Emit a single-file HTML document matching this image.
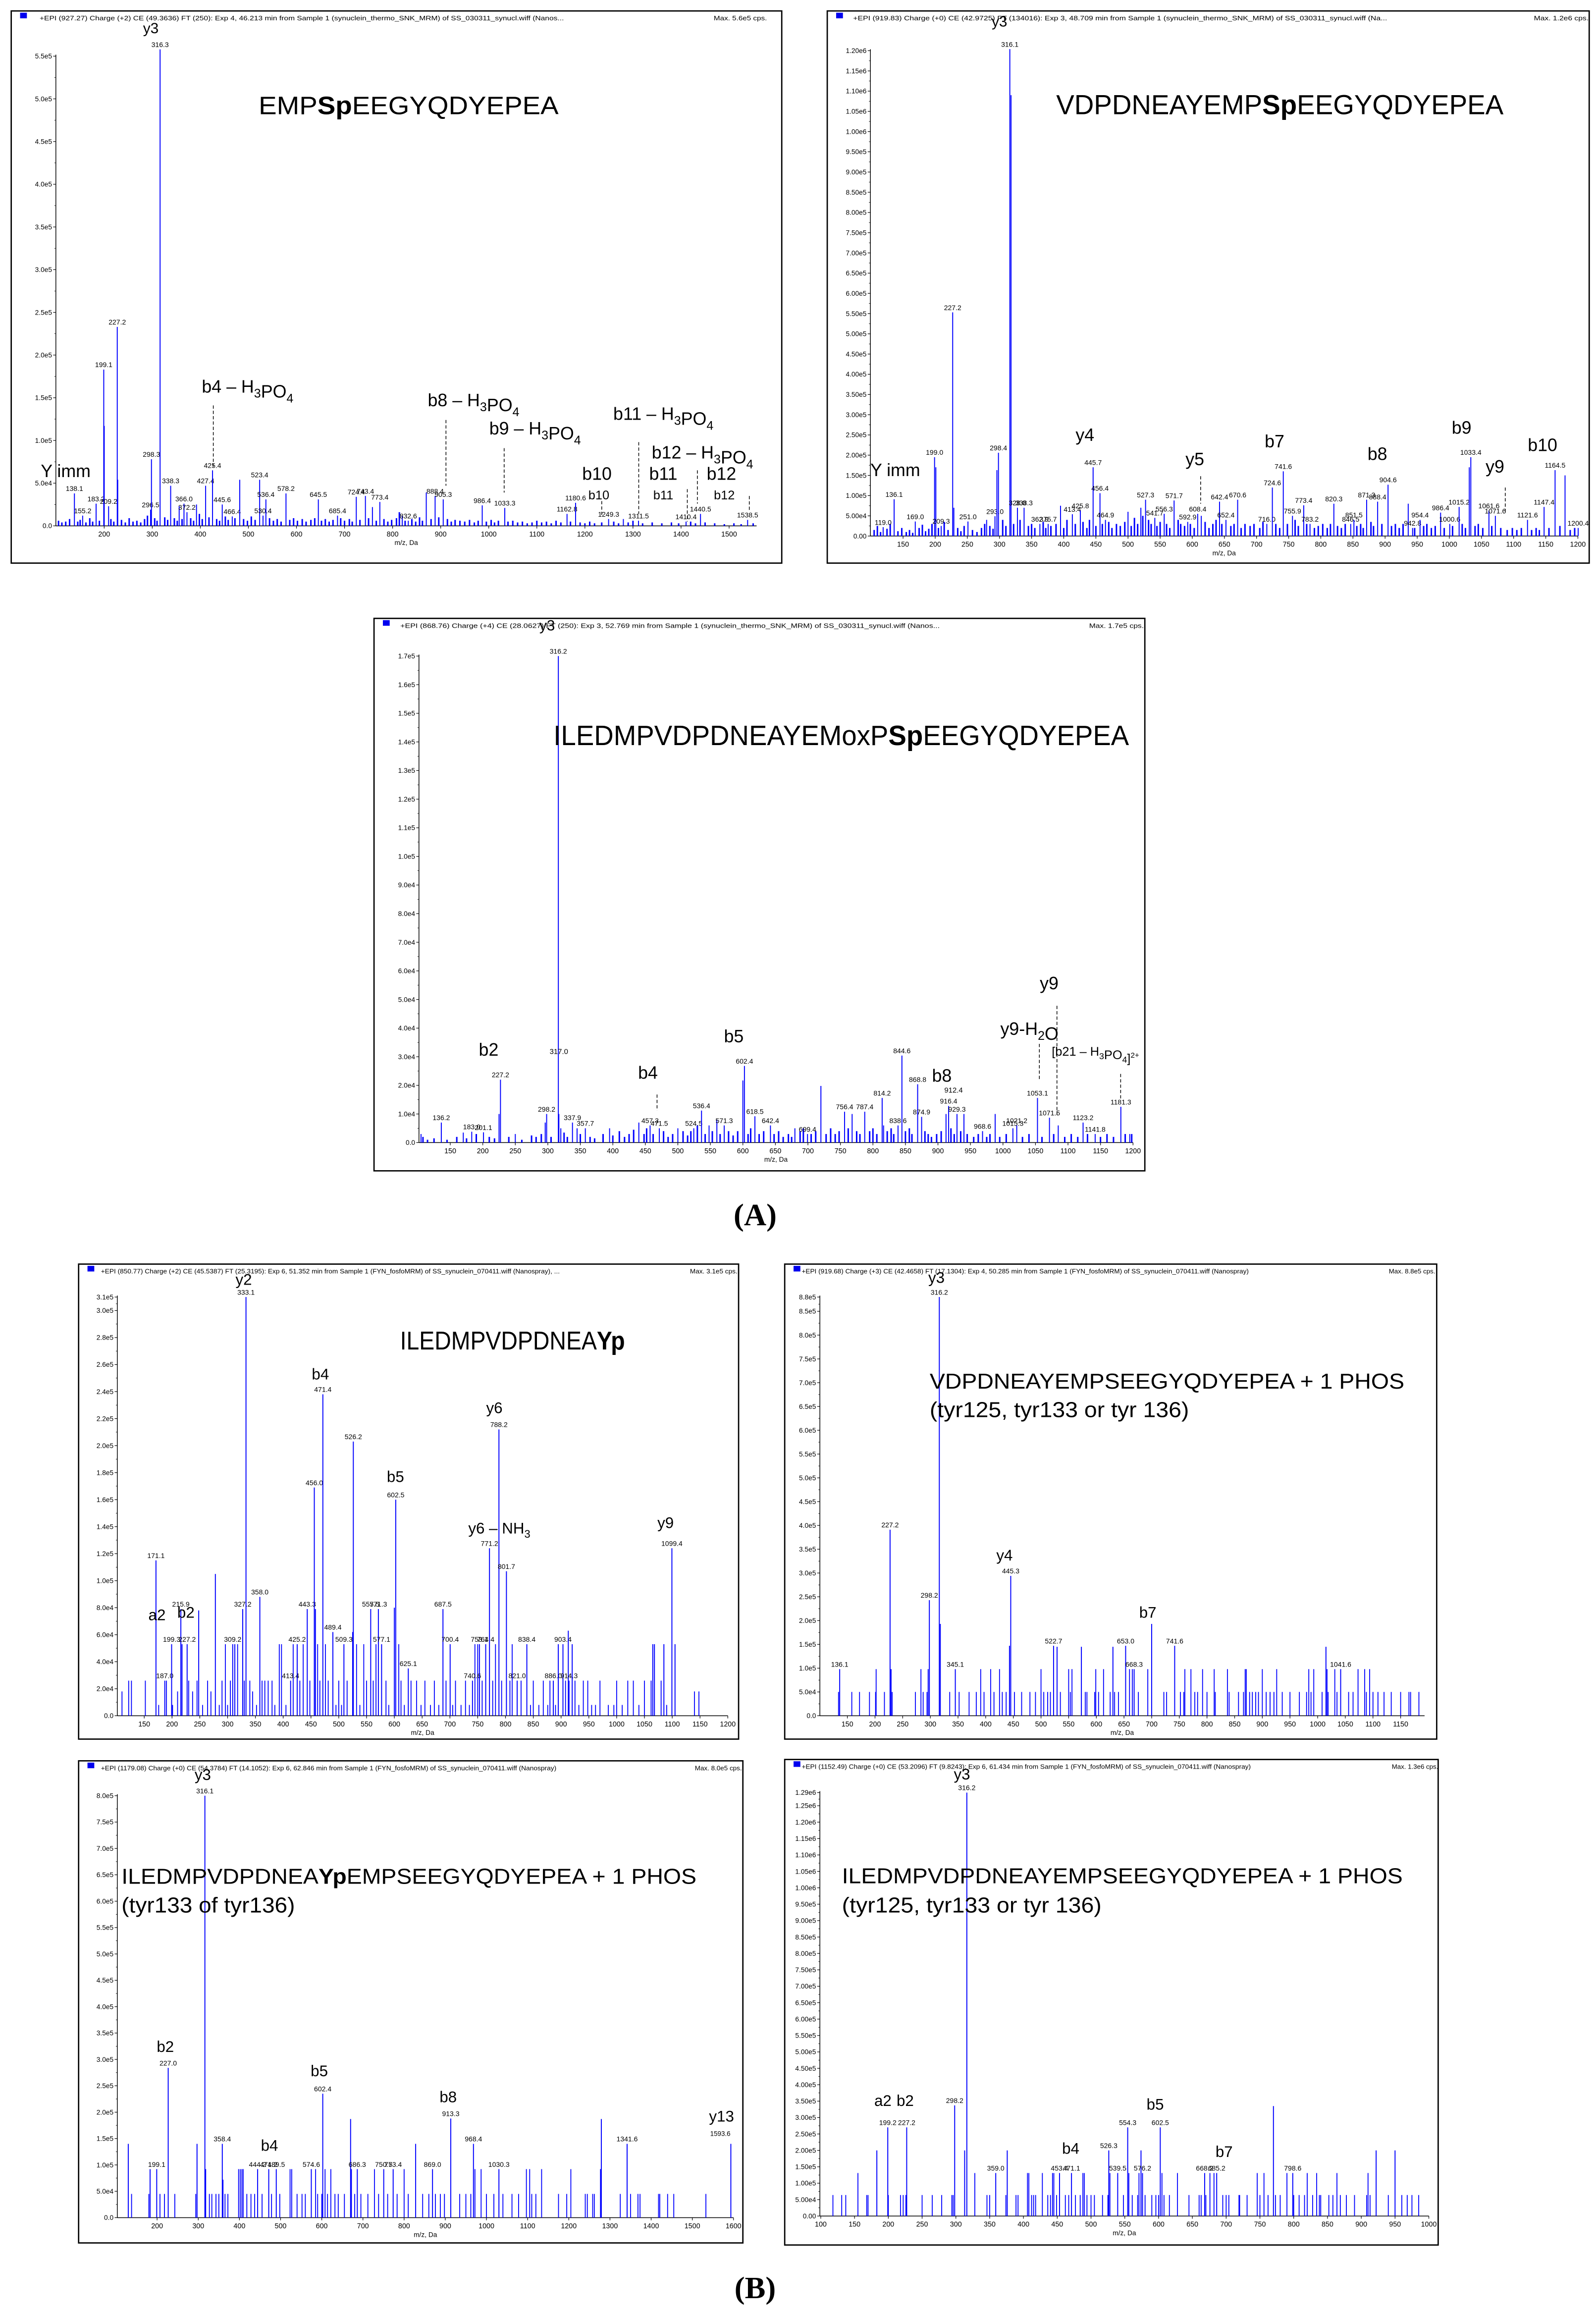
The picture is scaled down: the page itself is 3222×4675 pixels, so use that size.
<!DOCTYPE html>
<html><head><meta charset="utf-8"><title>MS/MS spectra</title>
<style>html,body{margin:0;padding:0;background:#fff}svg{display:block}</style></head>
<body>
<svg id="fig" xmlns="http://www.w3.org/2000/svg" width="3222" height="4675" viewBox="0 0 1080 1567.04" preserveAspectRatio="none">
<rect x="0" y="0" width="1080" height="1567.04" fill="#fff"/>
<text x="511" y="829" text-anchor="middle" font-family="Liberation Serif, serif" font-weight="bold" font-size="21">(A)</text>
<text x="511" y="1555" text-anchor="middle" font-family="Liberation Serif, serif" font-weight="bold" font-size="21">(B)</text>
</svg>
<script>
function range(a,b,s){const r=[];for(let v=a;v<=b+1e-9;v+=s)r.push(+v.toFixed(6));return r;}

/* ---------- Panel 1 data ---------- */
const P1_PEAKS=[[138.1,3.8e4,'138.1'],[155.2,1.2e4,'155.2'],[183.2,2.6e4,'183.2'],[199.1,1.83e5,'199.1'],[200.1,1.17e5,''],[209.2,2.3e4,'209.2'],[227.2,2.33e5,'227.2'],[228.2,5.4e4,''],[296.5,1.9e4,'296.5'],[298.3,7.8e4,'298.3'],[316.3,5.58e5,'316.3'],[338.3,4.7e4,'338.3'],[356,2.3e4,''],[366.0,2.6e4,'366.0'],[372.2,1.6e4,'372.2'],[392,2.5e4,''],[411,4.7e4,'427.4'],[425.4,6.5e4,'425.4'],[445.6,2.5e4,'445.6'],[466.4,1.1e4,'466.4'],[482,5.4e4,''],[523.4,5.4e4,'523.4'],[530.4,1.2e4,'530.4'],[536.4,3.1e4,'536.4'],[578.2,3.8e4,'578.2'],[645.5,3.1e4,'645.5'],[685.4,1.2e4,'685.4'],[724.4,3.4e4,'724.4'],[743.4,3.5e4,'743.4'],[758,2.2e4,''],[773.4,2.8e4,'773.4'],[820,1.2e4,''],[832.6,6e3,'832.6'],[870,3.9e4,''],[888.4,3.5e4,'888.4'],[905.3,3.1e4,'905.3'],[986.4,2.4e4,'986.4'],[1033.3,2.1e4,'1033.3'],[1162.8,1.4e4,'1162.8'],[1180.6,2.7e4,'1180.6'],[1249.3,8e3,'1249.3'],[1280,8e3,''],[1311.5,6e3,'1311.5'],[1410.4,5e3,'1410.4'],[1440.5,1.4e4,'1440.5'],[1538.5,7e3,'1538.5']];
const P1_NOISE=[[105,6e3],[112,4e3],[120,5e3],[128,8e3],[145,5e3],[150,7e3],[162,4e3],[170,9e3],[176,5e3],[190,6e3],[214,8e3],[220,5e3],[236,7e3],[244,4e3],[252,9e3],[260,5e3],[268,6e3],[276,4e3],[284,8e3],[290,1.2e4],[305,9e3],[310,6e3],[326,1e4],[332,7e3],[346,9e3],[352,6e3],[362,8e3],[380,9e3],[386,6e3],[398,1.4e4],[404,8e3],[418,1e4],[434,8e3],[440,6e3],[452,1.1e4],[458,7e3],[472,9e3],[490,8e3],[498,6e3],[506,1.1e4],[514,7e3],[544,9e3],[552,6e3],[560,8e3],[568,5e3],[586,7e3],[594,9e3],[602,6e3],[612,8e3],[620,5e3],[630,7e3],[638,9e3],[652,6e3],[660,8e3],[668,5e3],[676,7e3],[692,9e3],[700,6e3],[710,8e3],[716,5e3],[732,7e3],[750,9e3],[766,6e3],[782,8e3],[790,5e3],[798,7e3],[808,9e3],[814,1.6e4],[826,6e3],[840,8e3],[848,5e3],[856,1e4],[862,6e3],[880,8e3],[896,1e4],[914,8e3],[922,5e3],[930,7e3],[940,6e3],[950,5e3],[960,7e3],[970,4e3],[978,6e3],[995,5e3],[1005,7e3],[1012,4e3],[1020,6e3],[1040,5e3],[1050,6e3],[1060,4e3],[1070,5e3],[1080,3e3],[1090,4e3],[1100,6e3],[1110,4e3],[1120,5e3],[1130,3e3],[1140,6e3],[1150,4e3],[1170,5e3],[1190,4e3],[1200,3e3],[1210,5e3],[1220,3e3],[1235,4e3],[1260,5e3],[1270,3e3],[1290,4e3],[1300,6e3],[1320,3e3],[1340,4e3],[1360,3e3],[1380,4e3],[1395,3e3],[1420,5e3],[1430,3e3],[1450,4e3],[1470,3e3],[1490,2e3],[1510,3e3],[1525,2e3],[1550,3e3]];
const P1_ANN=[['y3',297,5.77e5,10,'middle'],['Y imm',68,5.7e4,12,'start'],['b4 – H_3PO_4',403,1.56e5,12,'start'],['b8 – H_3PO_4',873,1.4e5,12,'start'],['b9 – H_3PO_4',1001,1.07e5,12,'start'],['b11 – H_3PO_4',1259,1.24e5,12,'start'],['b12 – H_3PO_4',1339,7.9e4,12,'start'],['b10',1225,5.4e4,12,'middle'],['b11',1363,5.4e4,12,'middle'],['b12',1484,5.4e4,12,'middle'],['b10',1229,3.1e4,8.5,'middle'],['b11',1363,3.1e4,8.5,'middle'],['b12',1490,3.1e4,8.5,'middle']];
const P1_DASH=[[427,1.41e5,6.9e4],[911,1.24e5,4.7e4],[1032,9.1e4,3.9e4],[1312,9.8e4,1.4e4],[1413,4.3e4,5e3],[1235,2.9e4,1.2e4],[1434,6.5e4,2.6e4],[1542,3.5e4,1.8e4]];
const P1_YTICKS=range(0,5.5e5,5e4);
const P1_XTICKS=range(200,1500,100);

/* ---------- Panel 2 data ---------- */
const P2_PEAKS=[[119.0,2.2e4,'119.0'],[136.1,9.1e4,'136.1'],[169.0,3.6e4,'169.0'],[199.0,1.95e5,'199.0'],[201,1.7e5,''],[209.3,2.5e4,'209.3'],[227.2,5.53e5,'227.2'],[229,7e4,''],[251.0,3.6e4,'251.0'],[280,4e4,''],[293.0,4.9e4,'293.0'],[296,1.63e5,''],[298.4,2.06e5,'298.4'],[316.1,1.204e6,'316.1'],[318,1.09e6,''],[328.0,7e4,'328.0'],[338.3,7e4,'338.3'],[362.9,3e4,'362.9'],[375.7,3e4,'375.7'],[395,7.5e4,''],[413.4,5.4e4,'413.4'],[425.8,6.3e4,'425.8'],[445.7,1.7e5,'445.7'],[456.4,1.06e5,'456.4'],[464.9,4e4,'464.9'],[500,6e4,''],[520,7e4,''],[527.3,9e4,'527.3'],[541.7,4.5e4,'541.7'],[556.3,5.5e4,'556.3'],[571.7,8.8e4,'571.7'],[592.9,3.5e4,'592.9'],[608.4,5.5e4,'608.4'],[614,5e4,''],[642.4,8.5e4,'642.4'],[652.4,4e4,'652.4'],[670.6,9e4,'670.6'],[716.0,3e4,'716.0'],[724.6,1.2e5,'724.6'],[741.6,1.6e5,'741.6'],[755.9,5e4,'755.9'],[773.4,7.6e4,'773.4'],[783.2,3e4,'783.2'],[820.3,8e4,'820.3'],[846.5,3e4,'846.5'],[851.5,4e4,'851.5'],[871.3,9e4,'871.3'],[888.4,8.5e4,'888.4'],[904.6,1.27e5,'904.6'],[936,8e4,''],[942.8,2e4,'942.8'],[954.4,4e4,'954.4'],[986.4,5.8e4,'986.4'],[1000.6,3e4,'1000.6'],[1015.2,7.2e4,'1015.2'],[1031,1.7e5,''],[1033.4,1.95e5,'1033.4'],[1061.6,6.3e4,'1061.6'],[1071.6,5e4,'1071.6'],[1121.6,4e4,'1121.6'],[1147.4,7.2e4,'1147.4'],[1164.5,1.63e5,'1164.5'],[1180,1.5e5,''],[1200.4,2e4,'1200.4']];
const P2_NOISE=[[105,1.5e4],[110,2.5e4],[115,1e4],[125,1.8e4],[130,3e4],[142,1.2e4],[148,2e4],[155,1e4],[160,1.5e4],[165,8e3],[175,2e4],[180,2.8e4],[185,1.2e4],[190,1.8e4],[195,3e4],[205,2e4],[214,3.5e4],[220,1.5e4],[235,2e4],[240,1.2e4],[245,2.5e4],[258,1.5e4],[265,1e4],[272,2e4],[277,3e4],[285,2.5e4],[290,1.8e4],[305,4e4],[310,2.5e4],[322,3e4],[332,4e4],[345,2.5e4],[350,3e4],[355,2e4],[368,3.5e4],[372,2e4],[380,2.5e4],[388,3e4],[400,2e4],[405,4e4],[418,3e4],[430,3.5e4],[436,2e4],[440,4e4],[450,2.5e4],[460,3e4],[470,3.5e4],[475,2e4],[482,3e4],[488,2.5e4],[495,3.5e4],[505,2.5e4],[510,4.5e4],[515,3e4],[523,5e4],[532,4e4],[536,3e4],[545,2.5e4],[550,3.5e4],[560,3e4],[565,2e4],[578,4e4],[582,3e4],[588,2.5e4],[597,3e4],[603,2e4],[620,3.5e4],[626,2e4],[632,3e4],[637,4e4],[646,3e4],[660,2.5e4],[665,3e4],[676,2e4],[682,3e4],[690,2.5e4],[696,3e4],[705,2e4],[710,3.5e4],[730,3e4],[736,2e4],[748,3e4],[760,4e4],[765,2.5e4],[778,3e4],[790,2e4],[796,2.5e4],[803,3e4],[810,2e4],[815,3e4],[826,2.5e4],[832,2e4],[838,3e4],[856,2.5e4],[862,3e4],[866,2e4],[878,3.5e4],[882,2.5e4],[895,3e4],[910,2.5e4],[916,3e4],[922,2e4],[928,3e4],[946,2e4],[960,2.5e4],[965,3e4],[972,2e4],[978,2.5e4],[992,2e4],[1005,2.5e4],[1020,3e4],[1025,2e4],[1040,2.5e4],[1045,3e4],[1052,2e4],[1066,2.5e4],[1080,2e4],[1090,1.5e4],[1098,2e4],[1105,1.5e4],[1112,2e4],[1128,1.5e4],[1135,2e4],[1140,1.5e4],[1155,2e4],[1172,2.5e4],[1188,1.5e4],[1195,2e4]];
const P2_ANN=[['y3',300,1.26e6,10,'middle'],['Y imm',99,1.48e5,12,'start'],['y4',433,2.35e5,12,'middle'],['y5',604,1.75e5,12,'middle'],['b7',728,2.19e5,12,'middle'],['b8',888,1.88e5,12,'middle'],['b9',1019,2.53e5,12,'middle'],['y9',1071,1.57e5,12,'middle'],['b10',1145,2.1e5,12,'middle']];
const P2_DASH=[[613,1.48e5,8e4],[1087,1.2e5,6e4]];
const P2_YTICKS=range(0,1.2e6,5e4);
const P2_XTICKS=range(150,1200,50);

/* ---------- Panel 3 data ---------- */
const P3_PEAKS=[[105,3e3,''],[136.2,7e3,'136.2'],[170,3.5e3,''],[183.0,3.8e3,'183.0'],[201.1,3.6e3,'201.1'],[225,1.0e4,''],[227.2,2.2e4,'227.2'],[250,3e3,''],[296,7e3,''],[298.2,1.0e4,'298.2'],[316.2,1.7e5,'316.2'],[317.0,1.0e4,''],[320,5e3,''],[337.9,7e3,'337.9'],[345,5e3,''],[357.7,5e3,'357.7'],[395,5e3,''],[440,7e3,''],[457.3,6e3,'457.3'],[471.5,5e3,'471.5'],[500,5e3,''],[524.5,5e3,'524.5'],[536.4,1.12e4,'536.4'],[548,6e3,''],[560,8e3,''],[571.3,6e3,'571.3'],[600,2.17e4,''],[602.4,2.68e4,'602.4'],[618.5,9.2e3,'618.5'],[642.4,6e3,'642.4'],[680,5e3,''],[699.4,3e3,'699.4'],[720,1.98e4,''],[756.4,1.08e4,'756.4'],[768,1.0e4,''],[787.4,1.08e4,'787.4'],[814.2,1.56e4,'814.2'],[816.4,6e3,''],[838.6,6e3,'838.6'],[844.6,3.04e4,'844.6'],[868.8,2.04e4,'868.8'],[874.9,9e3,'874.9'],[912.4,1e4,''],[916.4,1.28e4,'916.4'],[929.3,1.0e4,'929.3'],[940,1e4,''],[968.6,4e3,'968.6'],[988,1e4,''],[1015.3,5e3,'1015.3'],[1021.2,6e3,'1021.2'],[1053.1,1.56e4,'1053.1'],[1071.5,8.7e3,'1071.5'],[1085,6e3,''],[1123.2,7e3,'1123.2'],[1141.8,3e3,'1141.8'],[1181.3,1.25e4,'1181.3'],[1195,3e3,'']];
const P3_NOISE=[[108,2e3],[115,1e3],[125,1.5e3],[145,1e3],[160,2e3],[175,1.5e3],[190,3e3],[210,2e3],[218,1.5e3],[240,2e3],[260,1e3],[275,2.5e3],[282,2e3],[290,3e3],[305,2e3],[325,3.5e3],[330,2e3],[350,3e3],[365,2e3],[372,1.5e3],[385,3e3],[400,2.5e3],[410,4e3],[418,2e3],[425,3e3],[432,4.5e3],[448,3e3],[452,5e3],[462,3e3],[478,4e3],[485,2e3],[492,3e3],[508,4e3],[515,2.5e3],[520,4e3],[530,6e3],[542,3e3],[553,4e3],[565,3e3],[578,4e3],[585,2.5e3],[592,4e3],[608,3e3],[612,5e3],[625,3e3],[632,4e3],[648,3e3],[655,4e3],[662,2e3],[670,3e3],[675,2e3],[688,4e3],[693,5e3],[705,3e3],[712,4e3],[728,3e3],[735,5e3],[742,3e3],[748,4e3],[762,5e3],[775,4e3],[780,3e3],[795,4e3],[800,5e3],[806,3e3],[822,4e3],[828,5e3],[832,3e3],[850,4e3],[856,5e3],[860,3e3],[880,4e3],[885,3e3],[890,2e3],[898,3e3],[905,4e3],[920,5e3],[925,3e3],[935,4e3],[945,3e3],[955,2e3],[962,3e3],[975,2e3],[980,3e3],[995,2e3],[1005,3e3],[1030,2e3],[1040,3e3],[1060,2e3],[1078,3e3],[1095,2e3],[1105,3e3],[1115,2e3],[1130,3e3],[1150,2e3],[1160,3e3],[1170,2e3],[1188,3e3],[1198,3e3]];
const P3_ANN=[['y3',299,1.79e5,10,'middle'],['b2',209,3.04e4,12,'middle'],['b4',454,2.23e4,12,'middle'],['b5',586,3.5e4,12,'middle'],['b8',906,2.13e4,12,'middle'],['y9',1071,5.36e4,12,'middle'],['y9-H_2O',996,3.76e4,12,'start'],['[b21 – H_3PO_4]^2+',1075,3.04e4,8.5,'start'],['317.0',317,3.1e4,5,'middle'],['912.4',924,1.75e4,5,'middle']];
const P3_DASH=[[468,1.68e4,1.12e4],[1083,4.78e4,9.6e3],[1056,3.45e4,2.17e4],[1181,2.4e4,1.5e4]];
const P3_YTICKS=range(0,1.7e5,1e4);
const P3_XTICKS=range(150,1200,50);

/* ---------- Panel 5 data ---------- */
const P5_PEAKS=[[171.1,1.15e5,'171.1'],[187.0,2.6e4,'187.0'],[199.3,5.3e4,'199.3'],[215.9,7.9e4,'215.9'],[218,5.3e4,''],[227.2,5.3e4,'227.2'],[248,7.8e4,''],[278,1.05e5,''],[309.2,5.3e4,'309.2'],[313,5.3e4,''],[327.2,7.9e4,'327.2'],[333.1,3.1e5,'333.1'],[358.0,8.8e4,'358.0'],[413.4,2.6e4,'413.4'],[425.2,5.3e4,'425.2'],[443.3,7.9e4,'443.3'],[456.0,1.69e5,'456.0'],[458,7.9e4,''],[471.4,2.38e5,'471.4'],[489.4,6.2e4,'489.4'],[509.3,5.3e4,'509.3'],[525,6.2e4,''],[526.2,2.03e5,'526.2'],[557.5,7.9e4,'557.5'],[571.3,7.9e4,'571.3'],[577.1,5.3e4,'577.1'],[600,8e4,''],[602.5,1.6e5,'602.5'],[625.1,3.5e4,'625.1'],[687.5,7.9e4,'687.5'],[700.4,5.3e4,'700.4'],[740.6,2.6e4,'740.6'],[753.1,5.3e4,'753.1'],[764.4,5.3e4,'764.4'],[771.2,1.24e5,'771.2'],[788.2,2.12e5,'788.2'],[801.7,1.07e5,'801.7'],[821.0,2.6e4,'821.0'],[838.4,5.3e4,'838.4'],[886.0,2.6e4,'886.0'],[895,5.3e4,''],[903.4,5.3e4,'903.4'],[913,6.3e4,''],[914.3,2.6e4,'914.3'],[920,5.3e4,''],[1065,5.3e4,''],[1068,5.3e4,''],[1085,5.3e4,''],[1099.4,1.24e5,'1099.4'],[1105,5.3e4,'']];
const P5_NOISE=[[110,1.8e4],[122,2.6e4],[127,2.6e4],[152,2.6e4],[176,8e3],[190,2.6e4],[201,8e3],[210,1.8e4],[230,2.6e4],[237,1.8e4],[245,2.6e4],[255,8e3],[264,2.6e4],[270,1.8e4],[285,8e3],[290,2.6e4],[296,5.3e4],[300,8e3],[305,2.6e4],[318,5.3e4],[330,2.6e4],[340,2.6e4],[345,1.8e4],[352,8e3],[362,2.6e4],[367,2.6e4],[373,2.6e4],[380,2.6e4],[385,8e3],[393,5.3e4],[397,5.3e4],[405,8e3],[418,5.3e4],[430,2.6e4],[436,5.3e4],[448,2.6e4],[462,5.3e4],[466,2.6e4],[476,5.3e4],[481,2.6e4],[495,8e3],[500,2.6e4],[505,8e3],[515,2.6e4],[532,5.3e4],[538,8e3],[545,5.3e4],[550,2.6e4],[562,2.6e4],[567,5.3e4],[585,2.6e4],[590,8e3],[608,5.3e4],[612,2.6e4],[618,8e3],[630,2.6e4],[640,2.6e4],[648,8e3],[655,2.6e4],[665,8e3],[672,2.6e4],[680,8e3],[693,2.6e4],[705,8e3],[710,2.6e4],[720,8e3],[728,2.6e4],[735,8e3],[745,5.3e4],[750,5.3e4],[758,2.6e4],[777,2.6e4],[782,5.3e4],[793,2.6e4],[808,2.6e4],[812,5.3e4],[828,2.6e4],[845,8e3],[850,2.6e4],[860,8e3],[868,2.6e4],[876,8e3],[880,2.6e4],[890,8e3],[908,2.6e4],[925,2.6e4],[932,8e3],[940,2.6e4],[948,2.6e4],[955,8e3],[962,8e3],[970,2.6e4],[985,8e3],[995,8e3],[1000,2.6e4],[1010,8e3],[1020,2.6e4],[1030,2.6e4],[1040,8e3],[1050,2.6e4],[1062,2.6e4],[1080,2.6e4],[1090,8e3],[1140,1.8e4],[1148,1.8e4]];
const P5_ANN=[['y2',329,3.19e5,10.5,'middle'],['b4',467,2.49e5,10.5,'middle'],['y6',780,2.24e5,10.5,'middle'],['b5',602,1.73e5,10.5,'middle'],['y6 – NH_3',733,1.35e5,10.5,'start'],['y9',1088,1.39e5,10.5,'middle'],['a2',173,7.07e4,10.5,'middle'],['b2',225,7.25e4,10.5,'middle']];
const P5_DASH=[];
const P5_YTICKS=range(0,3.0e5,2e4).concat([3.1e5]);
const P5_XTICKS=range(150,1200,50);

/* ---------- Panel 6 data ---------- */
const P6_PEAKS=[[136.1,9.8e4,'136.1'],[227.2,3.91e5,'227.2'],[229,9.8e4,''],[298.2,2.43e5,'298.2'],[316.2,8.8e5,'316.2'],[318,1.93e5,''],[345.1,9.8e4,'345.1'],[443,1.47e5,''],[445.3,2.94e5,'445.3'],[522.7,1.47e5,'522.7'],[529,1.45e5,''],[573,1.45e5,''],[630,1.45e5,''],[653.0,1.47e5,'653.0'],[668.3,9.8e4,'668.3'],[700,1.93e5,''],[741.6,1.47e5,'741.6'],[1015,1.45e5,''],[1041.6,9.8e4,'1041.6']];
const P6_NOISE=[[202,9.8e4],[283,9.8e4],[296,9.8e4],[391,9.8e4],[409,9.8e4],[425,9.8e4],[500,9.8e4],[550,9.8e4],[556,9.8e4],[599,9.8e4],[613,9.8e4],[660,9.8e4],[665,9.8e4],[693,9.8e4],[760,9.8e4],[771,9.8e4],[792,9.8e4],[813,9.8e4],[837,9.8e4],[869,9.8e4],[871,9.8e4],[900,9.8e4],[926,9.8e4],[984,9.8e4],[993,9.8e4],[1017,9.8e4],[1031,9.8e4],[1073,9.8e4],[1085,9.8e4],[1094,9.8e4],[134,5e4],[158,5e4],[172,5e4],[190,5e4],[201,5e4],[217,5e4],[231,5e4],[273,5e4],[287,5e4],[294,5e4],[335,5e4],[352,5e4],[370,5e4],[383,5e4],[397,5e4],[415,5e4],[430,5e4],[437,5e4],[452,5e4],[465,5e4],[480,5e4],[490,5e4],[505,5e4],[512,5e4],[517,5e4],[535,5e4],[553,5e4],[580,5e4],[583,5e4],[597,5e4],[604,5e4],[625,5e4],[633,5e4],[640,5e4],[676,5e4],[722,5e4],[727,5e4],[752,5e4],[758,5e4],[778,5e4],[783,5e4],[800,5e4],[815,5e4],[840,5e4],[857,5e4],[866,5e4],[877,5e4],[882,5e4],[888,5e4],[893,5e4],[907,5e4],[914,5e4],[921,5e4],[936,5e4],[950,5e4],[967,5e4],[980,5e4],[988,5e4],[1008,5e4],[1019,5e4],[1035,5e4],[1056,5e4],[1064,5e4],[1088,5e4],[1100,5e4],[1109,5e4],[1120,5e4],[1133,5e4],[1150,5e4],[1165,5e4],[1168,5e4],[1183,5e4]];
const P6_ANN=[['y3',311,9.1e5,10.5,'middle'],['y4',434,3.26e5,10.5,'middle'],['b7',693,2.06e5,10.5,'middle']];
const P6_DASH=[];
const P6_YTICKS=range(0,8.5e5,5e4).concat([8.8e5]);
const P6_XTICKS=range(150,1150,50);

/* ---------- Panel 7 data ---------- */
const P7_PEAKS=[[130,1.4e5,''],[183,9.2e4,''],[199.1,9.2e4,'199.1'],[227.0,2.84e5,'227.0'],[297,1.4e5,''],[316.1,8e5,'316.1'],[318,9.2e4,''],[358.4,1.4e5,'358.4'],[360,7.2e4,''],[444.2,9.2e4,'444.2'],[471.2,9.2e4,'471.2'],[489.5,9.2e4,'489.5'],[574.6,9.2e4,'574.6'],[602.4,2.35e5,'602.4'],[670,1.87e5,''],[686.3,9.2e4,'686.3'],[750.5,9.2e4,'750.5'],[773.4,9.2e4,'773.4'],[828,1.4e5,''],[869.0,9.2e4,'869.0'],[913.3,1.88e5,'913.3'],[968.4,1.4e5,'968.4'],[1030.3,9.2e4,'1030.3'],[1279,1.87e5,''],[1341.6,1.4e5,'1341.6'],[1593.6,1.4e5,'']];
const P7_NOISE=[[398,9.2e4],[402,9.2e4],[406,9.2e4],[409,9.2e4],[523,9.2e4],[527,9.2e4],[585,9.2e4],[608,9.2e4],[622,9.2e4],[672,9.2e4],[728,9.2e4],[800,9.2e4],[972,9.2e4],[987,9.2e4],[1097,9.2e4],[1105,9.2e4],[1134,9.2e4],[1205,9.2e4],[1277,9.2e4],[138,4.5e4],[180,4.5e4],[207,4.5e4],[218,4.5e4],[243,4.5e4],[294,4.5e4],[327,4.5e4],[333,4.5e4],[343,4.5e4],[350,4.5e4],[365,4.5e4],[372,4.5e4],[418,4.5e4],[428,4.5e4],[437,4.5e4],[455,4.5e4],[478,4.5e4],[498,4.5e4],[540,4.5e4],[552,4.5e4],[560,4.5e4],[590,4.5e4],[600,4.5e4],[614,4.5e4],[632,4.5e4],[640,4.5e4],[655,4.5e4],[680,4.5e4],[695,4.5e4],[712,4.5e4],[738,4.5e4],[760,4.5e4],[783,4.5e4],[810,4.5e4],[845,4.5e4],[860,4.5e4],[876,4.5e4],[888,4.5e4],[898,4.5e4],[935,4.5e4],[950,4.5e4],[962,4.5e4],[1000,4.5e4],[1018,4.5e4],[1040,4.5e4],[1062,4.5e4],[1078,4.5e4],[1110,4.5e4],[1120,4.5e4],[1175,4.5e4],[1195,4.5e4],[1240,4.5e4],[1245,4.5e4],[1258,4.5e4],[1262,4.5e4],[1325,4.5e4],[1350,4.5e4],[1368,4.5e4],[1373,4.5e4],[1418,4.5e4],[1421,4.5e4],[1440,4.5e4],[1455,4.5e4],[1533,4.5e4]];
const P7_ANN=[['y3',311,8.3e5,10.5,'middle'],['b2',220,3.14e5,10.5,'middle'],['b5',594,2.68e5,10.5,'middle'],['b8',907,2.19e5,10.5,'middle'],['b4',473,1.27e5,10.5,'middle'],['y13',1571,1.82e5,10.5,'middle'],['1593.6',1568,1.55e5,4.5,'middle']];
const P7_DASH=[];
const P7_YTICKS=range(0,8e5,5e4);
const P7_XTICKS=range(200,1600,100);

/* ---------- Panel 8 data ---------- */
const P8_PEAKS=[[183,2e5,''],[199.2,2.7e5,'199.2'],[227.2,2.7e5,'227.2'],[298.2,3.37e5,'298.2'],[313,2e5,''],[316.2,1.29e6,'316.2'],[359.0,1.31e5,'359.0'],[376,2e5,''],[453.4,1.31e5,'453.4'],[471.1,1.31e5,'471.1'],[526.3,2e5,'526.3'],[539.5,1.31e5,'539.5'],[554.3,2.7e5,'554.3'],[574,2e5,''],[576.2,1.31e5,'576.2'],[602.5,2.7e5,'602.5'],[668.2,1.31e5,'668.2'],[686,1.31e5,'685.2'],[770,3.35e5,''],[798.6,1.31e5,'798.6'],[922,2e5,''],[950,2e5,'']];
const P8_NOISE=[[155,1.31e5],[328,1.31e5],[406,1.31e5],[408,1.31e5],[428,1.31e5],[443,1.31e5],[445,1.31e5],[488,1.31e5],[490,1.31e5],[528,1.31e5],[556,1.31e5],[571,1.31e5],[605,1.31e5],[628,1.31e5],[676,1.31e5],[682,1.31e5],[746,1.31e5],[756,1.31e5],[790,1.31e5],[820,1.31e5],[834,1.31e5],[864,1.31e5],[910,1.31e5],[118,6.4e4],[131,6.4e4],[137,6.4e4],[168,6.4e4],[170,6.4e4],[200,6.4e4],[218,6.4e4],[222,6.4e4],[226,6.4e4],[250,6.4e4],[265,6.4e4],[279,6.4e4],[294,6.4e4],[296,6.4e4],[346,6.4e4],[350,6.4e4],[374,6.4e4],[389,6.4e4],[392,6.4e4],[412,6.4e4],[415,6.4e4],[418,6.4e4],[436,6.4e4],[440,6.4e4],[449,6.4e4],[462,6.4e4],[467,6.4e4],[477,6.4e4],[484,6.4e4],[494,6.4e4],[500,6.4e4],[505,6.4e4],[517,6.4e4],[525,6.4e4],[548,6.4e4],[561,6.4e4],[569,6.4e4],[580,6.4e4],[590,6.4e4],[596,6.4e4],[600,6.4e4],[608,6.4e4],[616,6.4e4],[645,6.4e4],[660,6.4e4],[663,6.4e4],[670,6.4e4],[695,6.4e4],[700,6.4e4],[704,6.4e4],[719,6.4e4],[720,6.4e4],[731,6.4e4],[750,6.4e4],[762,6.4e4],[773,6.4e4],[780,6.4e4],[800,6.4e4],[808,6.4e4],[816,6.4e4],[828,6.4e4],[838,6.4e4],[840,6.4e4],[852,6.4e4],[858,6.4e4],[869,6.4e4],[878,6.4e4],[890,6.4e4],[908,6.4e4],[913,6.4e4],[940,6.4e4],[960,6.4e4],[968,6.4e4],[975,6.4e4],[985,6.4e4]];
const P8_ANN=[['y3',309,1.33e6,10.5,'middle'],['a2',192,3.35e5,10.5,'middle'],['b2',225,3.35e5,10.5,'middle'],['b5',595,3.24e5,10.5,'middle'],['b4',470,1.9e5,10.5,'middle'],['b7',697,1.8e5,10.5,'middle']];
const P8_DASH=[];
const P8_YTICKS=range(0,1.25e6,5e4).concat([1.29e6]);
const P8_XTICKS=range(100,1000,50);

/* ---------- panel layout (geometry only) ---------- */
const PANELS=[
 {name:'spectrum-empspeegyqdyepea',frame:[7.6,7.4,521.4,373.6],axL:37.8,axB:355.8,axR:512,yTopPx:38.0,yTopVal:5.5e5,xRefPx:70.5,xRefMz:200,k:0.3253,dec:1,nw:1.0,
  title:'+EPI (927.27) Charge (+2) CE (49.3636) FT (250): Exp 4, 46.213 min from Sample 1 (synuclein_thermo_SNK_MRM) of SS_030311_synucl.wiff (Nanos...',tx:[26.8,381.6],max:'Max. 5.6e5 cps.',mx:[483,519],
  seq:[['EMP*Sp*EEGYQDYEPEA',175,378,77.2,17]],peaks:P1_PEAKS,noise:P1_NOISE,ann:P1_ANN,dash:P1_DASH,yt:P1_YTICKS,xt:P1_XTICKS},
 {name:'spectrum-vdpdneayempspeegyqdyepea',frame:[559.8,7.4,515.6,373.6],axL:589.0,axB:362.7,axR:1067.7,yTopPx:34.3,yTopVal:1.2e6,xRefPx:611.1,xRefMz:150,k:0.4349,dec:2,nw:1.0,
  title:'+EPI (919.83) Charge (+0) CE (42.9725) FT (134016): Exp 3, 48.709 min from Sample 1 (synuclein_thermo_SNK_MRM) of SS_030311_synucl.wiff (Na...',tx:[577.3,938.7],max:'Max. 1.2e6 cps.',mx:[1038,1075],
  seq:[['VDPDNEAYEMP*Sp*EEGYQDYEPEA',714.7,1017.4,77.2,18.5]],peaks:P2_PEAKS,noise:P2_NOISE,ann:P2_ANN,dash:P2_DASH,yt:P2_YTICKS,xt:P2_XTICKS},
 {name:'spectrum-iledmpvdpdneayemoxpspeegyqdyepea',frame:[253.1,418.4,521.6,373.8],axL:283.5,axB:773.1,axR:766.7,yTopPx:443.9,yTopVal:1.7e5,xRefPx:304.7,xRefMz:150,k:0.44,dec:1,nw:1.0,
  title:'+EPI (868.76) Charge (+4) CE (28.0627) FT (250): Exp 3, 52.769 min from Sample 1 (synuclein_thermo_SNK_MRM) of SS_030311_synucl.wiff (Nanos...',tx:[270.9,635.9],max:'Max. 1.7e5 cps.',mx:[737,774],
  seq:[['ILEDMPVDPDNEAYEMoxP*Sp*EEGYQDYEPEA',374.5,764,504.2,19]],peaks:P3_PEAKS,noise:P3_NOISE,ann:P3_ANN,dash:P3_DASH,yt:P3_YTICKS,xt:P3_XTICKS},
 {name:'spectrum-iledmpvdpdneayp',frame:[53.2,855.3,446.6,321.4],axL:79.4,axB:1160.9,axR:492.5,yTopPx:877.6,yTopVal:3.1e5,xRefPx:97.6,xRefMz:150,k:0.3761,dec:1,nw:0.6,
  title:'+EPI (850.77) Charge (+2) CE (45.5387) FT (25.3195): Exp 6, 51.352 min from Sample 1 (FYN_fosfoMRM) of SS_synuclein_070411.wiff (Nanospray), ...',tx:[68.3,378.8],max:'Max. 3.1e5 cps.',mx:[466.9,499],
  seq:[['ILEDMPVDPDNEA*Yp*',270.7,422.9,913.0,17.5]],peaks:P5_PEAKS,noise:P5_NOISE,ann:P5_ANN,dash:P5_DASH,yt:P5_YTICKS,xt:P5_XTICKS},
 {name:'spectrum-vdpdneay-1phos',frame:[531,855.3,441.2,321.4],axL:554.8,axB:1160.9,axR:964,yTopPx:877.6,yTopVal:8.8e5,xRefPx:573.4,xRefMz:150,k:0.3744,dec:1,nw:0.6,
  title:'+EPI (919.68) Charge (+3) CE (42.4658) FT (17.1304): Exp 4, 50.285 min from Sample 1 (FYN_fosfoMRM) of SS_synuclein_070411.wiff (Nanospray)',tx:[542.5,845],max:'Max. 8.8e5 cps.',mx:[939.8,971.2],
  seq:[['VDPDNEAYEMPSEEGYQDYEPEA + 1 PHOS',629.1,950.3,939.5,14.7],['(tyr125, tyr133 or tyr 136)',629.1,804.6,958.9,14.7]],peaks:P6_PEAKS,noise:P6_NOISE,ann:P6_ANN,dash:P6_DASH,yt:P6_YTICKS,xt:P6_XTICKS},
 {name:'spectrum-iledmpvdpdneaypempseegyqdyepea',frame:[53.2,1191.4,449.5,326.2],axL:79.4,axB:1500.5,axR:496.3,yTopPx:1215.0,yTopVal:8e5,xRefPx:106.3,xRefMz:200,k:0.2786,dec:1,nw:0.6,
  title:'+EPI (1179.08) Charge (+0) CE (54.3784) FT (14.1052): Exp 6, 62.846 min from Sample 1 (FYN_fosfoMRM) of SS_synuclein_070411.wiff (Nanospray)',tx:[68.3,376.5],max:'Max. 8.0e5 cps.',mx:[470.2,502],
  seq:[['ILEDMPVDPDNEA*Yp*EMPSEEGYQDYEPEA + 1 PHOS',82.2,471.3,1274.6,14.7],['(tyr133 of tyr136)',82.2,199.6,1294.1,14.7]],peaks:P7_PEAKS,noise:P7_NOISE,ann:P7_ANN,dash:P7_DASH,yt:P7_YTICKS,xt:P7_XTICKS},
 {name:'spectrum-iledmpvdpdneay-1phos',frame:[531,1190.5,442.2,328.5],axL:554.8,axB:1499.4,axR:966.9,yTopPx:1212.9,yTopVal:1.29e6,xRefPx:555.4,xRefMz:100,k:0.4572,dec:2,nw:0.6,
  title:'+EPI (1152.49) Charge (+0) CE (53.2096) FT (9.8243): Exp 6, 61.434 min from Sample 1 (FYN_fosfoMRM) of SS_synuclein_070411.wiff (Nanospray)',tx:[542.5,846.4],max:'Max. 1.3e6 cps.',mx:[941.8,973.2],
  seq:[['ILEDMPVDPDNEAYEMPSEEGYQDYEPEA + 1 PHOS',569.7,949.2,1274.3,14.7],['(tyr125, tyr133 or tyr 136)',569.7,745.4,1294,14.7]],peaks:P8_PEAKS,noise:P8_NOISE,ann:P8_ANN,dash:P8_DASH,yt:P8_YTICKS,xt:P8_XTICKS}
];

const NS='http://www.w3.org/2000/svg';
const svg=document.getElementById('fig');
const NARROW='"Liberation Sans Narrow","Liberation Sans",Arial,sans-serif';
const SANS='"Liberation Sans",Arial,sans-serif';
const BLUE='#0000ff';
function mk(tag,attrs,parent){const e=document.createElementNS(NS,tag);for(const k in attrs)e.setAttribute(k,attrs[k]);parent.appendChild(e);return e;}
function fmt(v,dec){if(v===0)return dec===1?'0.0':'0.00';const ex=Math.floor(Math.log10(v)+1e-9);const m=v/Math.pow(10,ex);return m.toFixed(dec)+'e'+ex;}
function rich(t,str,fs){
  let bold=false,i=0;
  while(i<str.length){
    const ch=str[i];
    if(ch==='*'){bold=!bold;i++;continue;}
    if(ch==='_'){const s=mk('tspan',{dy:(fs*0.28).toFixed(2),'font-size':(fs*0.7).toFixed(2)},t);s.textContent=str[i+1];const b=mk('tspan',{dy:(-fs*0.28).toFixed(2)},t);b.textContent='';i+=2;continue;}
    if(ch==='^'){const s=mk('tspan',{dy:(-fs*0.4).toFixed(2),'font-size':(fs*0.6).toFixed(2)},t);s.textContent=str.slice(i+1);break;}
    let j=i;while(j<str.length&&!'*_^'.includes(str[j]))j++;
    const s=mk('tspan',bold?{'font-weight':'bold','font-family':SANS}:{},t);s.textContent=str.slice(i,j);i=j;
  }
}

function drawPanel(c){
  const g=mk('g',{},svg);
  
  
  const xs=m=>c.xRefPx+(m-c.xRefMz)*c.k;
  const ys=v=>c.axB-v/c.yTopVal*(c.axB-c.yTopPx);
  const [fx,fy,fw,fh]=c.frame;
  const fr=mk('rect',{x:fx,y:fy,width:fw,height:fh,fill:'none',stroke:'#000','stroke-width':0.9},g);
  
  
  const sq=mk('rect',{x:fx+6,y:fy+1.2,width:4.6,height:3.8,fill:'#0000ee'},g);
  
  
  const tt=mk('text',{x:c.tx[0],y:fy+6.4,'font-size':4.4,'font-family':NARROW,textLength:(c.tx[1]-c.tx[0]).toFixed(1),lengthAdjust:'spacingAndGlyphs'},g);
  tt.textContent=c.title;
  
  
  const mt=mk('text',{x:c.mx[0],y:fy+6.4,'font-size':4.4,'font-family':NARROW,textLength:(c.mx[1]-c.mx[0]).toFixed(1),lengthAdjust:'spacingAndGlyphs'},g);
  mt.textContent=c.max;
  
  
  const ya=mk('line',{x1:c.axL,y1:c.yTopPx-1,x2:c.axL,y2:c.axB,stroke:'#000','stroke-width':0.5},g);
  
  
  const xa=mk('line',{x1:c.axL,y1:c.axB,x2:c.axR,y2:c.axB,stroke:'#000','stroke-width':0.5},g);
  
  
  c.yt.forEach((v,idx)=>{
    const y=ys(v);
    const tk=mk('line',{x1:c.axL-1.8,y1:y,x2:c.axL,y2:y,stroke:'#000','stroke-width':0.4},g);
    
    
    if(idx>0){const ym=ys((v+c.yt[idx-1])/2);const mn=mk('line',{x1:c.axL-1,y1:ym,x2:c.axL,y2:ym,stroke:'#000','stroke-width':0.3},g);
      
      }
    const lb=mk('text',{x:c.axL-2.6,y:y+1.6,'font-size':4.6,'font-family':NARROW,'text-anchor':'end'},g);
    lb.textContent=fmt(v,c.dec);
    
    
  });
  c.xt.forEach(m=>{
    const x=xs(m);
    const tk=mk('line',{x1:x,y1:c.axB,x2:x,y2:c.axB+1.8,stroke:'#000','stroke-width':0.4},g);
    
    
    const lb=mk('text',{x:x,y:c.axB+7.2,'font-size':4.8,'font-family':NARROW,'text-anchor':'middle'},g);
    lb.textContent=String(m);
    
    
  });
  const xl=mk('text',{x:(c.axL+c.axR)/2,y:c.axB+13,'font-size':4.6,'font-family':NARROW,'text-anchor':'middle'},g);
  xl.textContent='m/z, Da';
  
  
  c.noise.forEach(p=>{
    const l=mk('line',{x1:xs(p[0]).toFixed(2),y1:c.axB,x2:xs(p[0]).toFixed(2),y2:ys(p[1]).toFixed(2),stroke:BLUE,'stroke-width':c.nw},g);
    
    
  });
  c.peaks.forEach(p=>{
    const x=xs(p[0]),y=ys(p[1]);
    const l=mk('line',{x1:x.toFixed(2),y1:c.axB,x2:x.toFixed(2),y2:y.toFixed(2),stroke:BLUE,'stroke-width':0.65},g);
    
    
    if(p[2]){
      const t=mk('text',{x:x.toFixed(2),y:(y-1.6).toFixed(2),'font-size':4.7,'font-family':NARROW,'text-anchor':'middle'},g);
      t.textContent=p[2];
      
      
    }
  });
  c.dash.forEach(d=>{
    const l=mk('line',{x1:xs(d[0]).toFixed(2),y1:ys(d[1]).toFixed(2),x2:xs(d[0]).toFixed(2),y2:ys(d[2]).toFixed(2),stroke:'#000','stroke-width':0.5,'stroke-dasharray':'2.2,1.4'},g);
    
    
  });
  c.ann.forEach(a=>{
    const t=mk('text',{x:xs(a[1]).toFixed(2),y:ys(a[2]).toFixed(2),'font-size':a[3],'font-family':NARROW,'text-anchor':a[4]},g);
    rich(t,a[0],a[3]);
    
    
  });
  c.seq.forEach(s=>{
    const t=mk('text',{x:s[1],y:s[3],'font-size':s[4],'font-family':SANS,textLength:(s[2]-s[1]).toFixed(1),lengthAdjust:'spacingAndGlyphs'},g);
    rich(t,s[0],s[4]);
    
    
  });
}
PANELS.forEach(drawPanel);
</script>
</body></html>
